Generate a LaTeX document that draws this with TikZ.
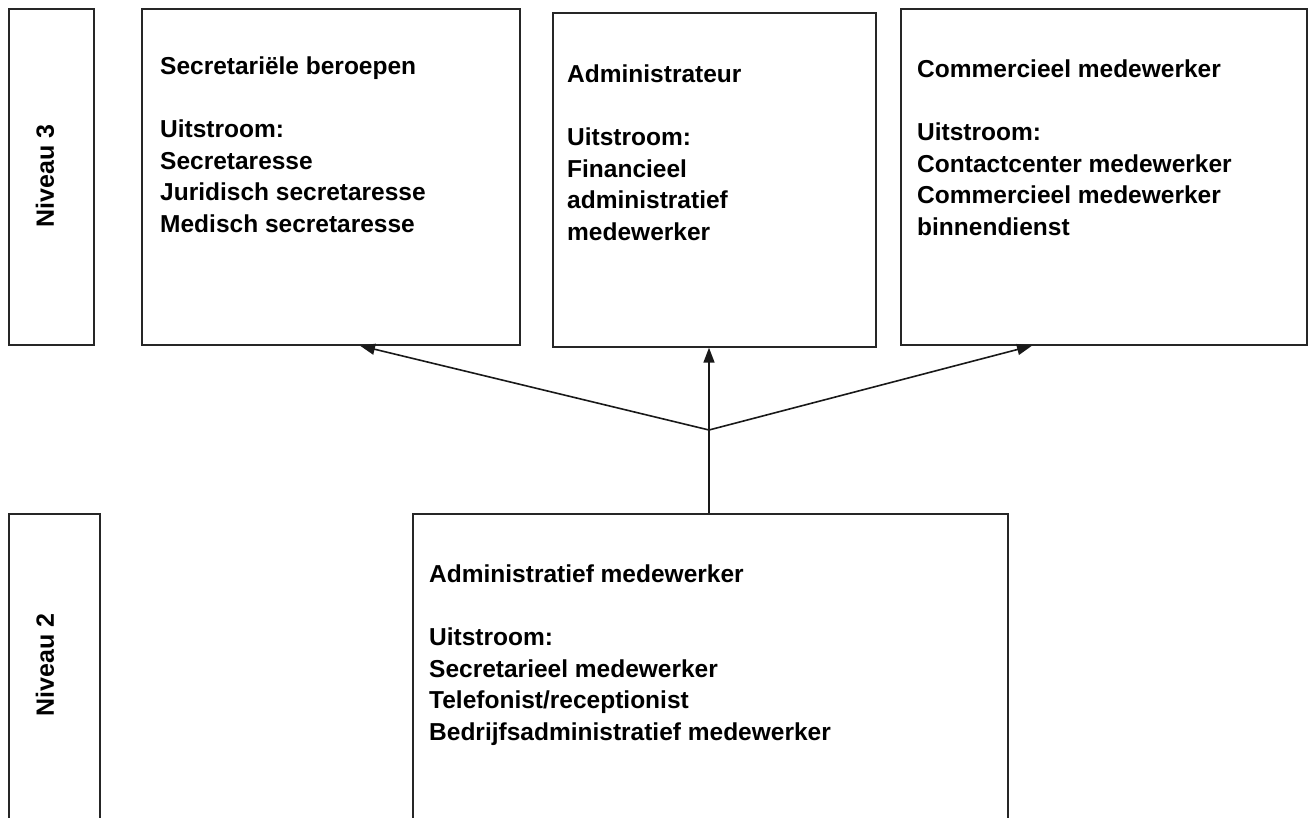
\documentclass[tikz,border=0pt]{standalone}
\usepackage{fontspec}
\setmainfont{Liberation Sans}
\usetikzlibrary{arrows.meta,calc}
\tikzset{
  box/.style={draw=black!85, line width=1.7pt, anchor=north west, inner sep=0pt, minimum width=#1},
  boxtext/.style={anchor=north west, inner sep=0pt, align=left, font=\fontsize{24.5}{31.5}\selectfont\bfseries},
  levtext/.style={rotate=90, inner sep=0pt, font=\fontsize{25}{30}\selectfont\bfseries},
  conn/.style={draw=black!90, line width=1.6pt},
  arr/.style={conn, -{Triangle[length=15pt,width=11pt]}}
}
\begin{document}
\begin{tikzpicture}[x=1pt,y=-1pt]
\useasboundingbox (0,0) rectangle (1308,818);
\clip (0,0) rectangle (1308,818);
% level boxes
\node[box=85pt, minimum height=336pt] (l3) at (8,8) {};
\node[box=91pt, minimum height=320pt] (l2) at (8,513) {};
\node[levtext] (l3t) at (45,176) {Niveau 3};
\node[levtext] (l2t) at (45,665) {Niveau 2};
% top boxes
\node[box=378pt, minimum height=336pt] (b1) at (141,8) {};
\node[box=323pt, minimum height=334pt] (b2) at (552,12) {};
\node[box=406pt, minimum height=336pt] (b3) at (900,8) {};
% bottom box
\node[box=595pt, minimum height=320pt] (b4) at (412,513) {};
% texts
\node[boxtext] (t1) at (160,57) {Secretariële beroepen\\ \\Uitstroom:\\Secretaresse\\Juridisch secretaresse\\Medisch secretaresse};
\node[boxtext] (t2) at (567,65) {Administrateur\\ \\Uitstroom:\\Financieel\\administratief\\medewerker};
\node[boxtext] (t3) at (917,60) {Commercieel medewerker\\ \\Uitstroom:\\Contactcenter medewerker\\Commercieel medewerker\\binnendienst};
\node[boxtext] (t4) at (429,565) {Administratief medewerker\\ \\Uitstroom:\\Secretarieel medewerker\\Telefonist/receptionist\\Bedrijfsadministratief medewerker};
% connectors
\coordinate (j) at (709,430);
\draw[conn] (b4.north -| j) -- (j);
\draw[arr] (j) -- ($(b1.south west)+(219,0)$);
\draw[arr] (j) -- (j |- b2.south);
\draw[arr] (j) -- ($(b3.south west)+(132,0)$);
\end{tikzpicture}
\end{document}
